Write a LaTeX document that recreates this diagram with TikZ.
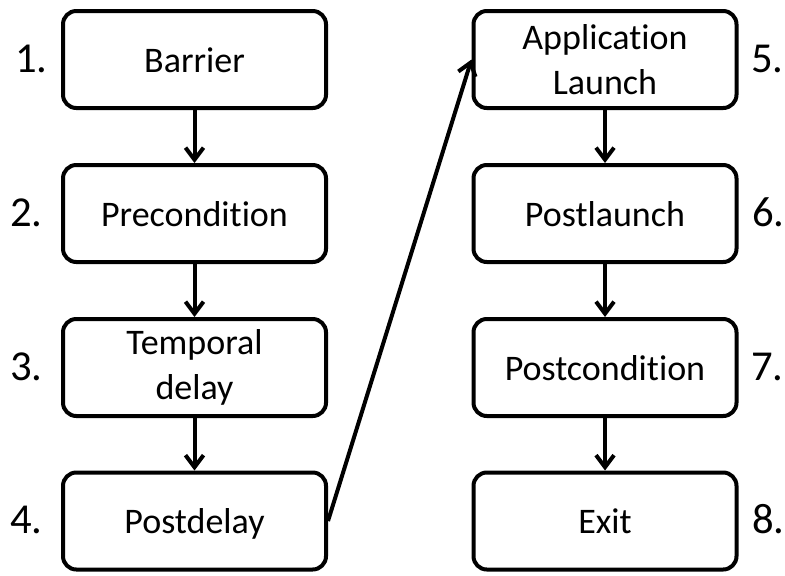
\documentclass[tikz,border=0pt]{standalone}
\usepackage{fontspec}
\setmainfont{Carlito}[Ligatures=NoCommon]
\usetikzlibrary{arrows.meta}
\begin{document}
\begin{tikzpicture}[x=0.75pt,y=-0.75pt,
  font=\fontsize{27pt}{33.75pt}\selectfont,
  stage/.style={draw=black,line width=3pt,rounded corners=10pt,
    minimum width=197.25pt,minimum height=72.75pt,inner sep=0pt,align=center},
  oneline/.style={stage,text height=18.75pt,text depth=0pt},
  num/.style={inner sep=0pt,font=\fontsize{32pt}{38pt}\selectfont},
  flow/.style={line width=3pt,-{Straight Barb[length=9pt,width=13.5pt]}}]
\useasboundingbox (0,0) rectangle (785,575);
% left column
\node[oneline] (b1) at (194.5,59.5)  {Barrier};
\node[oneline] (b2) at (194.5,213.5) {Precondition};
\node[stage]   (b3) at (194.5,367.5) {Temporal\\delay};
\node[oneline] (b4) at (194.5,521)   {Postdelay};
% right column
\node[stage]   (b5) at (605,59.5)  {Application\\Launch};
\node[oneline] (b6) at (605,213.5) {Postlaunch};
\node[oneline] (b7) at (605,367.5) {Postcondition};
\node[oneline] (b8) at (605,521)   {Exit};
% step numbers
\node[num,anchor=base east] (n1) at (48,72.5)  {1.};
\node[num,anchor=base east] (n2) at (43,226.5) {2.};
\node[num,anchor=base east] (n3) at (43,380.5) {3.};
\node[num,anchor=base east] (n4) at (43,533.5) {4.};
\node[num,anchor=base west] (n5) at (751,72.5)  {5.};
\node[num,anchor=base west] (n6) at (752,226.5) {6.};
\node[num,anchor=base west] (n7) at (751,380.5) {7.};
\node[num,anchor=base west] (n8) at (752,533.5) {8.};
% connectors
\draw[flow] (b1) -- (b2);
\draw[flow] (b2) -- (b3);
\draw[flow] (b3) -- (b4);
\draw[flow] (b4.east) -- (b5.west);
\draw[flow] (b5) -- (b6);
\draw[flow] (b6) -- (b7);
\draw[flow] (b7) -- (b8);
\end{tikzpicture}
\end{document}
